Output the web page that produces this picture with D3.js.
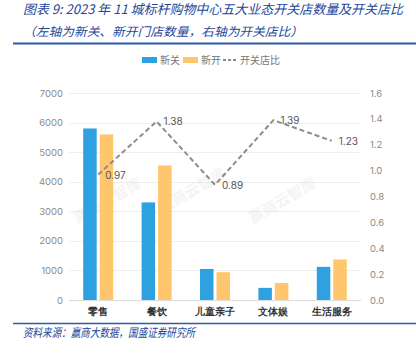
<!DOCTYPE html>
<html>
<head>
<meta charset="utf-8">
<script src="https://cdn.jsdelivr.net/npm/d3@7"></script>
<style>
  body { margin: 0; background: #fff; }
  svg { display: block; font-family: "Noto Sans CJK SC", "Noto Sans", sans-serif; }
</style>
</head>
<body>
<div id="chart"></div>
<script>
// data
const categories = ["零售", "餐饮", "儿童亲子", "文体娱", "生活服务"];
const closed = [5800, 3300, 1050, 410, 1120];   // 新关
const opened = [5600, 4550, 940, 575, 1370];    // 新开
const ratio = [0.97, 1.38, 0.89, 1.39, 1.23];   // 开关店比
const leftTicks = [0, 1000, 2000, 3000, 4000, 5000, 6000, 7000];
const rightTicks = [0, 0.2, 0.4, 0.6, 0.8, 1.0, 1.2, 1.4, 1.6];

const width = 416, height = 360;
const plot = { left: 69, right: 361, top: 93, bottom: 300 };
const blue = "#2ea1e0", orange = "#ffc66d", titleColor = "#23479a";

const svg = d3.select("#chart").append("svg")
  .attr("width", width).attr("height", height);

// title block
svg.append("text").attr("x", 23).attr("y", 14)
  .attr("font-size", 13).attr("font-style", "italic").attr("fill", titleColor)
  .attr("textLength", 380).attr("lengthAdjust", "spacingAndGlyphs")
  .text("图表 9:  2023 年 11 城标杆购物中心五大业态开关店数量及开关店比");
svg.append("text").attr("x", 23).attr("y", 36)
  .attr("font-size", 12).attr("font-style", "italic").attr("fill", titleColor)
  .attr("textLength", 280).attr("lengthAdjust", "spacingAndGlyphs")
  .text("（左轴为新关、新开门店数量，右轴为开关店比）");
svg.append("line").attr("x1", 13).attr("x2", width).attr("y1", 43.5).attr("y2", 43.5)
  .attr("stroke", "#2a5ba8").attr("stroke-width", 2);

// scales
const x = d3.scaleBand().domain(categories).range([plot.left, plot.right]);
const yL = d3.scaleLinear().domain([0, 7000]).range([plot.bottom, plot.top]);
const yR = d3.scaleLinear().domain([0, 1.6]).range([plot.bottom, plot.top]);

// grid
svg.append("g").selectAll("line").data(leftTicks).join("line")
  .attr("x1", plot.left).attr("x2", plot.right)
  .attr("y1", d => Math.round(yL(d)) + 0.5).attr("y2", d => Math.round(yL(d)) + 0.5)
  .attr("stroke", d => d === 0 ? "#dcdcdc" : "#eeeeee");

// axes
const axL = svg.append("g").attr("transform", `translate(${plot.left - 6},0)`)
  .call(d3.axisLeft(yL).tickValues(leftTicks).tickSize(0).tickPadding(0).tickFormat(d3.format("d")));
const axR = svg.append("g").attr("transform", `translate(${plot.right + 9},0)`)
  .call(d3.axisRight(yR).tickValues(rightTicks).tickSize(0).tickPadding(0).tickFormat(d3.format(".1f")));
[axL, axR].forEach(a => {
  a.select(".domain").remove();
  a.selectAll("text").attr("fill", "#8a8a8a").attr("font-size", 9.5)
    .attr("font-family", "Inter, 'Noto Sans', sans-serif");
});

const axX = svg.append("g").attr("transform", `translate(0,${plot.bottom})`)
  .call(d3.axisBottom(x).tickSize(0).tickPadding(8));
axX.select(".domain").remove();
axX.selectAll("text").attr("fill", "#333").attr("font-size", 10).attr("font-weight", "bold");

// watermarks
const wm = svg.append("g").attr("fill", "#d0d0d0").attr("opacity", 0.22)
  .attr("font-size", 15).attr("font-weight", "bold");
[[110, 205], [195, 195], [285, 205]].forEach(([wx, wy]) => {
  wm.append("text").attr("transform", `translate(${wx},${wy}) rotate(-30)`)
    .attr("text-anchor", "middle").text("赢商云智库");
});

// bars
const barW = 13.5, gap = 3;
const bars = svg.append("g");
bars.selectAll(".closed").data(categories).join("rect")
  .attr("x", d => x(d) + x.bandwidth() / 2 - gap / 2 - barW)
  .attr("width", barW)
  .attr("y", (d, i) => yL(closed[i]))
  .attr("height", (d, i) => plot.bottom - yL(closed[i]))
  .attr("fill", blue);
bars.selectAll(".opened").data(categories).join("rect")
  .attr("x", d => x(d) + x.bandwidth() / 2 + gap / 2)
  .attr("width", barW)
  .attr("y", (d, i) => yL(opened[i]))
  .attr("height", (d, i) => plot.bottom - yL(opened[i]))
  .attr("fill", orange);

// ratio line
const line = d3.line()
  .x((d, i) => x(categories[i]) + x.bandwidth() / 2)
  .y(d => yR(d));
svg.append("path").datum(ratio).attr("d", line)
  .attr("fill", "none").attr("stroke", "#8c8c8c").attr("stroke-width", 2)
  .attr("stroke-dasharray", "5,3");
svg.append("g").selectAll("text").data(ratio).join("text")
  .attr("x", (d, i) => x(categories[i]) + x.bandwidth() / 2 + 7)
  .attr("y", d => yR(d) + 4)
  .attr("font-size", 10).attr("fill", "#555")
  .attr("font-family", "Inter, 'Noto Sans', sans-serif")
  .text(d => d3.format(".2f")(d));

// legend
const lg = svg.append("g").attr("font-size", 10);
lg.append("rect").attr("x", 142).attr("y", 57).attr("width", 15).attr("height", 6).attr("fill", blue);
lg.append("text").attr("x", 160).attr("y", 64).attr("fill", "#777").text("新关");
lg.append("rect").attr("x", 183).attr("y", 57).attr("width", 15).attr("height", 6).attr("fill", orange);
lg.append("text").attr("x", 201).attr("y", 64).attr("fill", "#777").text("新开");
lg.append("line").attr("x1", 223).attr("x2", 237).attr("y1", 60).attr("y2", 60)
  .attr("stroke", "#8c8c8c").attr("stroke-width", 2).attr("stroke-dasharray", "3,2");
lg.append("text").attr("x", 240).attr("y", 64).attr("fill", "#777").text("开关店比");

// footer
svg.append("line").attr("x1", 13).attr("x2", width).attr("y1", 323.5).attr("y2", 323.5)
  .attr("stroke", "#2a5ba8").attr("stroke-width", 1.5);
svg.append("text").attr("x", 23).attr("y", 337)
  .attr("font-size", 12).attr("font-style", "italic").attr("fill", titleColor)
  .attr("textLength", 172).attr("lengthAdjust", "spacingAndGlyphs")
  .text("资料来源：赢商大数据，国盛证券研究所");
</script>
</body>
</html>
